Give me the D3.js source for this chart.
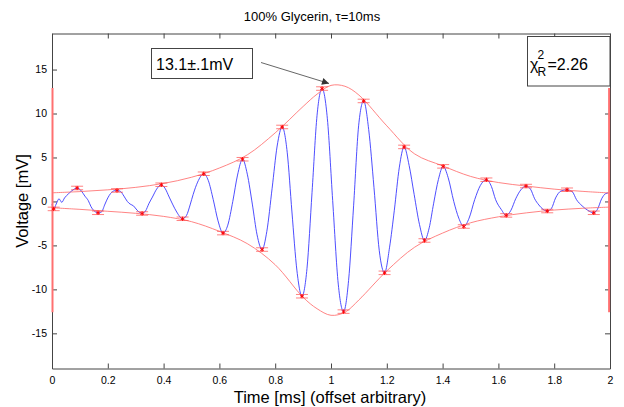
<!DOCTYPE html>
<html>
<head>
<meta charset="utf-8">
<script src="https://cdn.jsdelivr.net/npm/d3@7"></script>
<style>
  body { margin: 0; background: white; }
  text { font-family: "Liberation Sans", Arial, sans-serif; }
</style>
</head>
<body>
<div id="canvas"></div>
<script>
"use strict"

let svgWidth = 624
let svgHeight = 407
let plotLeft = 52
let plotRight = 610
let plotTop = 33.5
let plotBottom = 368.5

/* tick values and labels */
let xTicks = [0, 0.2, 0.4, 0.6, 0.8, 1, 1.2, 1.4, 1.6, 1.8, 2]
let xTickLabels = ["0", "0.2", "0.4", "0.6", "0.8", "1", "1.2", "1.4", "1.6", "1.8", "2"]
let yTicks = [-15, -10, -5, 0, 5, 10, 15]
let yTickLabels = ["-15", "-10", "-5", "0", "5", "10", "15"]

let waveT = [0.000, 0.006, 0.015, 0.025, 0.035, 0.045, 0.060, 0.075, 0.090, 0.105, 0.118, 0.130, 0.140, 0.152, 0.165,
    0.177, 0.190, 0.200, 0.210, 0.222, 0.233, 0.245, 0.258, 0.270, 0.280, 0.292, 0.305, 0.323,
    0.335, 0.348, 0.360, 0.375, 0.392, 0.405, 0.420, 0.432, 0.447, 0.468,
    0.482, 0.495, 0.506, 0.522, 0.544, 0.560, 0.578, 0.595, 0.613, 0.630, 0.648, 0.665, 0.683,
    0.700, 0.718, 0.735, 0.753, 0.770, 0.789, 0.807, 0.825, 0.843, 0.860, 0.878, 0.896,
    0.914, 0.932, 0.950, 0.968, 0.987, 1.006, 1.026, 1.045, 1.063, 1.081, 1.099, 1.117,
    1.135, 1.154, 1.173, 1.192, 1.210, 1.227, 1.245, 1.262, 1.280, 1.298, 1.317, 1.335,
    1.352, 1.368, 1.385, 1.402, 1.420, 1.440, 1.458, 1.476, 1.495, 1.515, 1.535, 1.557,
    1.575, 1.590, 1.610, 1.628, 1.645, 1.662, 1.680, 1.699, 1.715, 1.730, 1.745, 1.760, 1.775,
    1.790, 1.805, 1.825, 1.846, 1.865, 1.880, 1.900, 1.920, 1.942, 1.955, 1.970, 1.985, 2.000]
let waveV = [-0.3, -0.85, -0.3, 0.3, -0.1, 0.4, 0.9, 1.3, 1.53, 1.2, 0.6, 0.1, -0.6, -1.1, -1.29,
    -1.2, -0.3, 0.4, 0.9, 1.2, 1.25, 1.15, 0.6, 0.0, -0.3, -0.5, -1.0, -1.37,
    -1.1, -0.2, 0.5, 1.4, 1.9, 1.5, 0.5, -0.3, -1.2, -1.97,
    -1.6, -0.4, 0.8, 2.2, 3.15, 2.4, 0.2, -2.2, -3.6, -2.7, 0.0, 3.0, 4.8,
    3.1, -0.3, -3.8, -5.47, -3.4, 1.5, 6.3, 8.47, 5.6, -1.2, -7.9, -10.78,
    -7.6, 1.0, 9.8, 12.84, 9.4, 0.1, -9.4, -12.53, -9.0, -0.5, 8.6, 11.43,
    8.2, 1.6, -5.6, -8.12, -5.2, -1.0, 3.9, 6.2, 4.1, 0.8, -2.6, -4.44,
    -3.0, -0.2, 2.5, 3.99, 2.7, 0.0, -1.9, -2.85, -1.9, 0.2, 1.8, 2.47,
    1.7, 0.2, -0.9, -1.59, -1.0, 0.3, 1.3, 1.75, 1.4, 0.3, -0.4, -0.9, -1.09,
    -0.8, 0.4, 1.2, 1.33, 1.1, 0.2, -0.5, -1.0, -1.29, -0.9, 0.3, 0.9, 1.0]

/* fitted extrema with error bars */
let peakT = [0.006, 0.090, 0.165, 0.233, 0.323, 0.392, 0.468, 0.544, 0.613, 0.683, 0.753, 0.825, 0.896,
    0.968, 1.045, 1.117, 1.192, 1.262, 1.335, 1.402, 1.476, 1.557, 1.628, 1.699, 1.775, 1.846, 1.942]
let peakV = [-0.85, 1.53, -1.29, 1.25, -1.37, 1.9, -1.97, 3.15, -3.6, 4.8, -5.47, 8.47, -10.78,
    12.84, -12.53, 11.43, -8.12, 6.2, -4.44, 3.99, -2.85, 2.47, -1.59, 1.75, -1.09, 1.33, -1.29]
let peakErr = 0.2

/* envelope fit, upper and lower */
let envT = [0, 0.1, 0.2, 0.3, 0.4, 0.5, 0.6, 0.7, 0.8, 0.9, 0.95, 1.0, 1.05, 1.1, 1.2, 1.3, 1.4, 1.5, 1.6, 1.7, 1.8, 1.9, 2.0]
let envUpper = [0.98, 1.12, 1.32, 1.6, 2.05, 2.75, 3.8, 5.3, 7.8, 10.8, 12.2, 13.2, 13.1, 12.1, 8.6, 5.4, 4.05, 2.85, 2.15, 1.75, 1.4, 1.15, 0.96]
let envLower = [-0.72, -0.9, -1.12, -1.35, -1.7, -2.3, -3.4, -4.8, -7.2, -10.9, -12.2, -12.95, -12.6, -11.2, -7.9, -5.2, -3.6, -2.43, -1.75, -1.3, -0.98, -0.78, -0.64]

/* edge bars */
let edgeT = [0, 1.995]
let edgeLow = -12.6
let edgeHigh = 12.9

let svg = d3.select("#canvas")
    .append("svg")
    .attr("width", svgWidth)
    .attr("height", svgHeight)

/* Scales */
let xScale = d3.scaleLinear()
    .domain([0, 2])
    .range([plotLeft, plotRight])

let yScale = d3.scaleLinear()
    .domain([-19, 19.1])
    .range([plotBottom, plotTop])

/* axes, ticks pointing inside on all four sides */
function styleAxis(g) {
    g.select(".domain").attr("stroke", "#444")
    g.selectAll(".tick line").attr("stroke", "#444")
    g.selectAll(".tick text").attr("fill", "black").style("font-size", "10.5px")
}

svg.append("g")
    .attr("transform", "translate(0," + plotBottom + ")")
    .call(d3.axisBottom(xScale).tickValues(xTicks).tickSize(-5).tickSizeOuter(0).tickPadding(8)
        .tickFormat(function(d, i) { return xTickLabels[i] }))
    .call(styleAxis)

svg.append("g")
    .attr("transform", "translate(0," + plotTop + ")")
    .call(d3.axisTop(xScale).tickValues(xTicks).tickSize(-5).tickSizeOuter(0).tickFormat(""))
    .call(styleAxis)

svg.append("g")
    .attr("transform", "translate(" + plotLeft + ",0)")
    .call(d3.axisLeft(yScale).tickValues(yTicks).tickSize(-5).tickSizeOuter(0).tickPadding(5)
        .tickFormat(function(d, i) { return yTickLabels[i] }))
    .call(styleAxis)

svg.append("g")
    .attr("transform", "translate(" + plotRight + ",0)")
    .call(d3.axisRight(yScale).tickValues(yTicks).tickSize(-5).tickSizeOuter(0).tickFormat(""))
    .call(styleAxis)

/* signal */
let wave = waveT.map(function(t, i) { return {t: t, v: waveV[i]} })

let lineGen = d3.line()
    .x(function(d) { return xScale(d.t) })
    .y(function(d) { return yScale(d.v) })
    .curve(d3.curveMonotoneX)

svg.append("path")
    .datum(wave)
    .attr("fill", "none")
    .attr("stroke", "#3a3aff")
    .attr("stroke-width", 0.9)
    .attr("d", lineGen)

/* envelope */
let upper = envT.map(function(t, i) { return {t: t, v: envUpper[i]} })
let lower = envT.map(function(t, i) { return {t: t, v: envLower[i]} })

let envLine = d3.line()
    .x(function(d) { return xScale(d.t) })
    .y(function(d) { return yScale(d.v) })
    .curve(d3.curveCatmullRom)

for (let env of [upper, lower]) {
    svg.append("path")
        .datum(env)
        .attr("fill", "none")
        .attr("stroke", "#ff6464")
        .attr("stroke-width", 0.8)
        .attr("d", envLine)
}

/* edge bars */
svg.selectAll("line.edge")
    .data(edgeT)
    .join("line")
    .attr("class", "edge")
    .attr("x1", function(d) { return xScale(d) + 0.5 })
    .attr("x2", function(d) { return xScale(d) + 0.5 })
    .attr("y1", yScale(edgeLow))
    .attr("y2", yScale(edgeHigh))
    .attr("stroke", "#ff7070")
    .attr("stroke-width", 2)

/* error bars + star markers */
let peaks = peakT.map(function(t, i) { return {t: t, v: peakV[i]} })

let bars = svg.selectAll("g.peak")
    .data(peaks)
    .join("g")
    .attr("class", "peak")

bars.append("line")
    .attr("x1", function(d) { return xScale(d.t) })
    .attr("x2", function(d) { return xScale(d.t) })
    .attr("y1", function(d) { return yScale(d.v - peakErr) })
    .attr("y2", function(d) { return yScale(d.v + peakErr) })
    .attr("stroke", "#ff4040")
    .attr("stroke-width", 0.8)

for (let s of [-1, 1]) {
    bars.append("line")
        .attr("x1", function(d) { return xScale(d.t) - 6 })
        .attr("x2", function(d) { return xScale(d.t) + 6 })
        .attr("y1", function(d) { return yScale(d.v + s * peakErr) })
        .attr("y2", function(d) { return yScale(d.v + s * peakErr) })
        .attr("stroke", "#ff4a4a")
        .attr("stroke-width", 0.7)
}

bars.append("path")
    .attr("transform", function(d) { return "translate(" + xScale(d.t) + "," + yScale(d.v) + ")" })
    .attr("d", d3.symbol(d3.symbolAsterisk, 12))
    .attr("fill", "none")
    .attr("stroke", "#ff0000")
    .attr("stroke-width", 0.9)

/* title */
svg.append("text")
    .attr("x", 312)
    .attr("y", 21)
    .attr("text-anchor", "middle")
    .style("font-size", "13px")
    .text("100% Glycerin, τ=10ms")

/* axis labels */
svg.append("text")
    .attr("x", 330)
    .attr("y", 403)
    .attr("text-anchor", "middle")
    .style("font-size", "16.5px")
    .text("Time [ms] (offset arbitrary)")

svg.append("text")
    .attr("transform", "translate(28,201) rotate(-90)")
    .attr("text-anchor", "middle")
    .style("font-size", "16.5px")
    .text("Voltage [mV]")

/* annotation with arrow */
let tipX = xScale(1.0) - 2
let tipY = yScale(13.3) - 1

svg.append("defs").append("marker")
    .attr("id", "head")
    .attr("viewBox", "0 0 10 10")
    .attr("refX", 10)
    .attr("refY", 5)
    .attr("markerWidth", 9)
    .attr("markerHeight", 7)
    .attr("markerUnits", "userSpaceOnUse")
    .attr("orient", "auto")
    .append("path")
    .attr("d", "M0,0 L10,5 L0,10 z")
    .attr("fill", "#333")

svg.append("line")
    .attr("x1", 261)
    .attr("y1", 62.5)
    .attr("x2", tipX)
    .attr("y2", tipY)
    .attr("stroke", "#555")
    .attr("stroke-width", 0.9)
    .attr("marker-end", "url(#head)")

svg.append("rect")
    .attr("x", 151.5)
    .attr("y", 48.5)
    .attr("width", 101)
    .attr("height", 30)
    .attr("fill", "white")
    .attr("stroke", "#444")

svg.append("text")
    .attr("x", 156)
    .attr("y", 69.5)
    .style("font-size", "16px")
    .text("13.1±.1mV")

/* reduced chi-square box */
svg.append("rect")
    .attr("x", 527.5)
    .attr("y", 36.5)
    .attr("width", 82.5)
    .attr("height", 49.5)
    .attr("fill", "white")
    .attr("stroke", "#444")

let chi = svg.append("text")
    .attr("x", 530)
    .attr("y", 69.5)
    .style("font-size", "16px")

chi.append("tspan").text("χ")
chi.append("tspan")
    .attr("x", 537.5)
    .attr("y", 58.5)
    .style("font-size", "12px")
    .text("2")
chi.append("tspan")
    .attr("x", 537.5)
    .attr("y", 76)
    .style("font-size", "12px")
    .text("R")
chi.append("tspan")
    .attr("x", 547.5)
    .attr("y", 69.5)
    .text("=2.26")

</script>
</body>
</html>
